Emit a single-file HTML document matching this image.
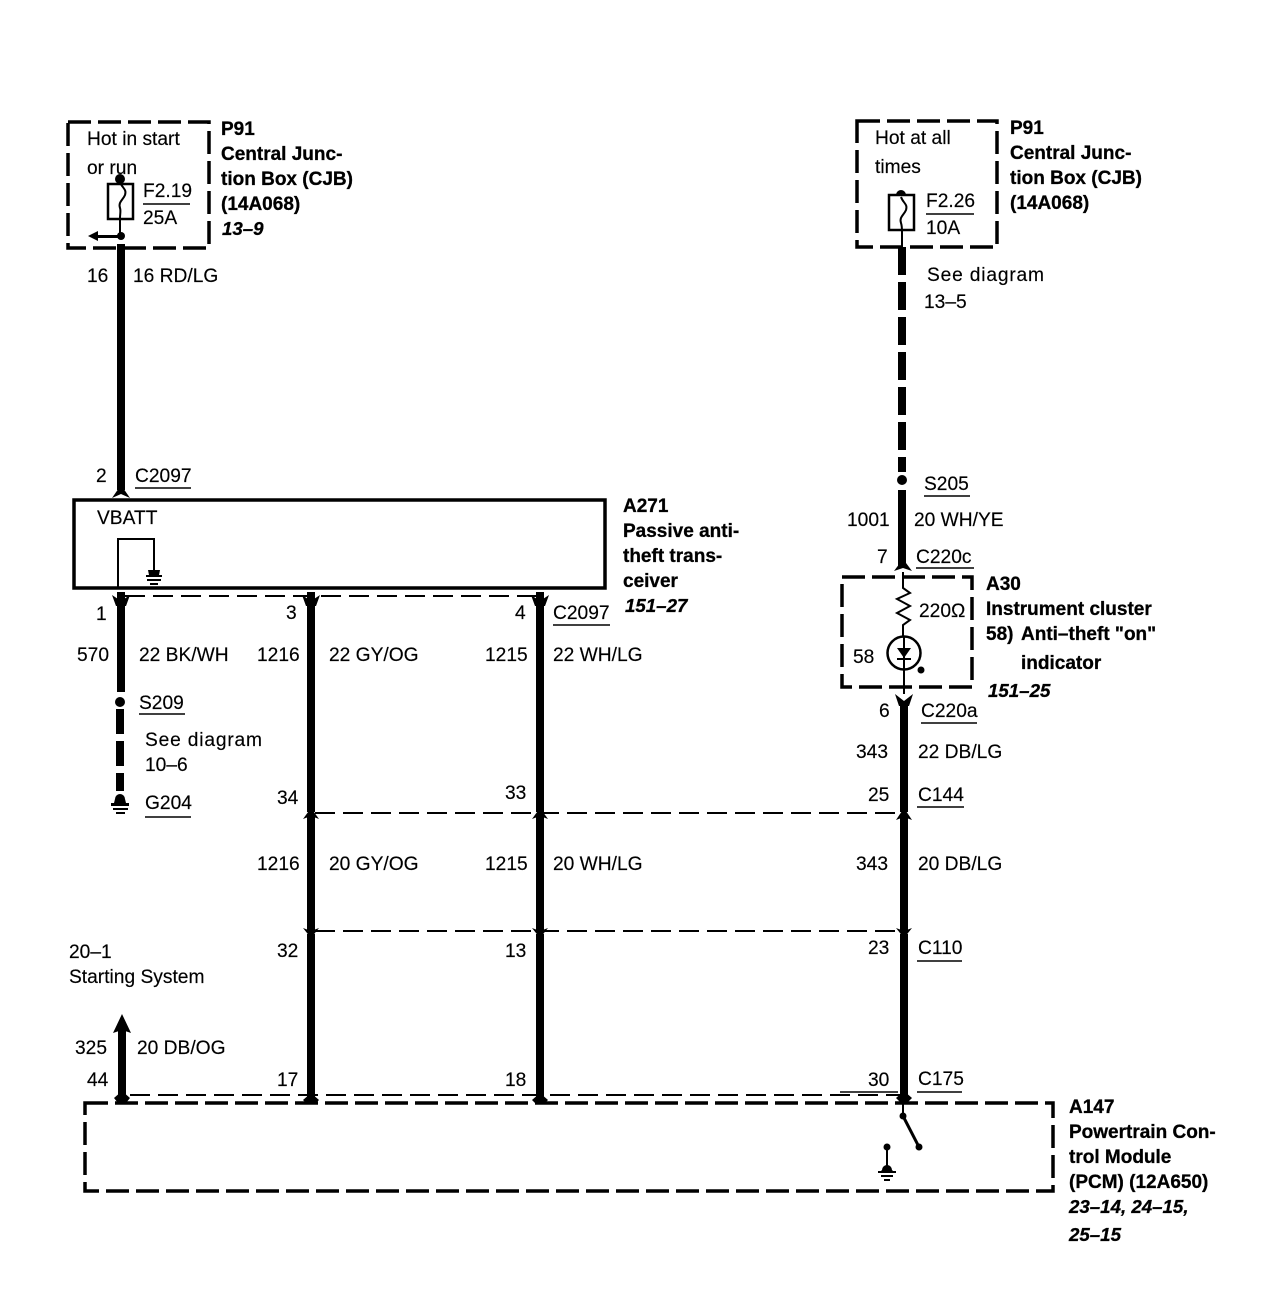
<!DOCTYPE html>
<html><head><meta charset="utf-8"><style>
html,body{margin:0;padding:0;background:#fff}
svg{display:block}
text{font-family:"Liberation Sans",sans-serif;font-size:19.2px;fill:#000;stroke:#000;stroke-width:.15}
.b{font-weight:bold;font-size:19px;stroke-width:.3}
.i{font-weight:bold;font-style:italic;font-size:18.7px;stroke-width:.3}
.d{fill:none;stroke:#000;stroke-width:3.5;stroke-dasharray:23 7}
.dt{fill:none;stroke:#000;stroke-width:2;stroke-dasharray:20 8}
.w{stroke:#000;stroke-width:8;fill:none}
.t{stroke:#000;stroke-width:2;fill:none}
.u{stroke:#000;stroke-width:1.5}
</style></head><body>
<svg width="1280" height="1312" viewBox="0 0 1280 1312" xmlns="http://www.w3.org/2000/svg">
<rect width="1280" height="1312" fill="#fff"/>

<!-- dashed boxes -->
<rect class="d" x="68" y="122" width="141" height="126"/>
<rect class="d" x="857" y="121" width="140" height="126"/>
<rect class="d" x="842" y="577" width="130" height="110"/>
<rect class="d" x="85" y="1103" width="968" height="88"/>

<!-- A271 -->
<rect x="74" y="500" width="531" height="88" fill="none" stroke="#000" stroke-width="3.5"/>
<path class="t" d="M118 588V539H154V570"/>
<path d="M148 570h12l-1 5h3v2h-16v-2h3z M147 579h14v2h-14z M150 583h8v2h-8z" fill="#000"/>

<!-- left fuse -->
<circle cx="120" cy="179" r="5" fill="#000"/>
<rect x="108" y="184" width="25" height="35" fill="#fff" stroke="#000" stroke-width="2.5"/>
<path class="t" d="M120 182c2 6 7 7 5 13-2 5-7 7-5 13 1 3 0 6 0 10v20"/>
<path class="u" d="M143 204h47"/>
<path d="M88 236l10-5v4h23v3H98v3z" fill="#000"/>
<circle cx="121" cy="236" r="4" fill="#000"/>

<!-- right fuse -->
<path d="M896 195a5 5 0 0 1 10 0v4h-10z" fill="#000"/>
<rect x="889" y="195" width="25" height="35" fill="#fff" stroke="#000" stroke-width="2.5"/>
<path class="t" d="M901 197c2 6 7 7 5 13-2 5-7 7-5 13 1 3 1 6 1 9v16"/>
<path class="u" d="M926 214h48"/>

<!-- wires -->
<path class="w" d="M121 244V490"/>
<path d="M112 498l9-13 9 13-9-4z" fill="#000"/>
<path class="w" d="M121 592V692"/>
<path d="M112 595l9 6 9-6-4 11h-10z" fill="#000"/>
<circle cx="120" cy="702" r="5" fill="#000"/>
<path class="w" stroke-dasharray="25 7" d="M120 709V791"/>
<path d="M115 799a5 5 0 0 1 10 0l1 4h3v3h-18v-3h3z M113 808h15v2h-15z M116 812h9v2h-9z" fill="#000"/>

<path class="w" d="M311 592V812"/>
<path d="M302 595l9 6 9-6-4 11h-10z" fill="#000"/>
<path d="M303 819l8-11 8 11-8-3z" fill="#000"/>
<path class="w" d="M311 816V932"/>
<path d="M303 928l8 10 8-10-8 3z" fill="#000"/>
<path class="w" d="M311 934V1098"/>
<path d="M303 1100l8-7 8 7-4 4h-8z" fill="#000"/>

<path class="w" d="M540 592V812"/>
<path d="M531 595l9 6 9-6-4 11h-10z" fill="#000"/>
<path d="M532 819l8-11 8 11-8-3z" fill="#000"/>
<path class="w" d="M540 816V932"/>
<path d="M532 928l8 10 8-10-8 3z" fill="#000"/>
<path class="w" d="M540 934V1098"/>
<path d="M532 1100l8-7 8 7-4 4h-8z" fill="#000"/>

<path class="w" stroke-dasharray="28 7" d="M902 247V472"/>
<circle cx="902" cy="480" r="5" fill="#000"/>
<path class="w" d="M902 490V568"/>
<path d="M894 571l9-12 9 12-9-3z" fill="#000"/>
<path class="t" d="M903 572V588l7 5-13 6 13 7-13 7 13 7-7 5V640"/>
<circle cx="904" cy="653" r="16.5" fill="#fff" stroke="#000" stroke-width="2.5"/>
<path d="M897 648h14l-7 10z" fill="#000"/>
<path class="t" d="M897 659h14M904 637V694"/>
<circle cx="921" cy="670" r="3.5" fill="#000"/>
<path d="M895 694l9 7 9-7-4 12h-10z" fill="#000"/>
<path class="w" d="M904 704V812"/>
<path d="M896 820l8-12 8 12-8-3z" fill="#000"/>
<path class="w" d="M904 816V932"/>
<path d="M896 928l8 10 8-10-8 3z" fill="#000"/>
<path class="w" d="M904 934V1095"/>
<path d="M896 1098l8-7 8 7-4 4h-8z" fill="#000"/>

<!-- arrow 44 -->
<path class="w" d="M122 1030V1096"/>
<path d="M113 1033l9-19 9 19-9-3z" fill="#000"/>
<path d="M114 1098l8-7 8 7-4 5h-8z" fill="#000"/>

<!-- thin dashed connectors -->
<path class="dt" d="M125 596H540"/>
<path class="dt" d="M315 813H905"/>
<path class="dt" d="M315 931H905"/>
<path class="dt" d="M130 1095H905"/>

<!-- PCM switch -->
<path class="t" d="M903 1102V1116"/>
<circle cx="903" cy="1116" r="3.5" fill="#000"/>
<path d="M903 1116L919 1147" stroke="#000" stroke-width="3"/>
<circle cx="919" cy="1147" r="3.5" fill="#000"/>
<circle cx="887" cy="1147" r="3.5" fill="#000"/>
<path class="t" d="M887 1147V1166"/>
<path d="M882 1170a5 5 0 0 1 10 0l1 1h3v2h-18v-2h3z M881 1175h12v2h-12z M884 1179h6v2h-6z" fill="#000"/>

<!-- underlines -->
<path class="u" d="M135 488h56M924 496h46M139 714h46M145 817h46M553 625h57M916 568h58M921 723h56M917 807h47M917 961h45M917 1092h45M840 1092h58"/>

<!-- left box text -->
<text x="87" y="145">Hot in start</text>
<text x="87" y="174">or run</text>
<text x="143" y="197">F2.19</text>
<text x="143" y="224">25A</text>
<text class="b" x="221" y="135">P91</text>
<text class="b" x="221" y="160">Central Junc-</text>
<text class="b" x="221" y="185">tion Box (CJB)</text>
<text class="b" x="221" y="210">(14A068)</text>
<text class="i" x="222" y="235">13–9</text>
<text x="87" y="282">16</text>
<text x="133" y="282">16 RD/LG</text>

<!-- right box text -->
<text x="875" y="144">Hot at all</text>
<text x="875" y="173">times</text>
<text x="926" y="207">F2.26</text>
<text x="926" y="234">10A</text>
<text class="b" x="1010" y="134">P91</text>
<text class="b" x="1010" y="159">Central Junc-</text>
<text class="b" x="1010" y="184">tion Box (CJB)</text>
<text class="b" x="1010" y="209">(14A068)</text>
<text x="927" y="281" textLength="117">See diagram</text>
<text x="924" y="308">13–5</text>

<!-- A271 text -->
<text x="96" y="482">2</text>
<text x="135" y="482">C2097</text>
<text x="97" y="524">VBATT</text>
<text class="b" x="623" y="512">A271</text>
<text class="b" x="623" y="537">Passive anti-</text>
<text class="b" x="623" y="562">theft trans-</text>
<text class="b" x="623" y="587">ceiver</text>
<text class="i" x="625" y="612">151–27</text>

<text x="96" y="620">1</text>
<text x="286" y="619">3</text>
<text x="515" y="619">4</text>
<text x="553" y="619">C2097</text>
<text x="77" y="661">570</text>
<text x="139" y="661">22 BK/WH</text>
<text x="257" y="661">1216</text>
<text x="329" y="661">22 GY/OG</text>
<text x="485" y="661">1215</text>
<text x="553" y="661">22 WH/LG</text>
<text x="139" y="709">S209</text>
<text x="145" y="746" textLength="117">See diagram</text>
<text x="145" y="771">10–6</text>
<text x="145" y="809">G204</text>
<text x="277" y="804">34</text>
<text x="505" y="799">33</text>
<text x="257" y="870">1216</text>
<text x="329" y="870">20 GY/OG</text>
<text x="485" y="870">1215</text>
<text x="553" y="870">20 WH/LG</text>
<text x="277" y="957">32</text>
<text x="505" y="957">13</text>
<text x="69" y="958">20–1</text>
<text x="69" y="983">Starting System</text>
<text x="75" y="1054">325</text>
<text x="137" y="1054">20 DB/OG</text>
<text x="87" y="1086">44</text>
<text x="277" y="1086">17</text>
<text x="505" y="1086">18</text>

<!-- right text -->
<text x="924" y="490">S205</text>
<text x="847" y="526">1001</text>
<text x="914" y="526">20 WH/YE</text>
<text x="877" y="563">7</text>
<text x="916" y="563">C220c</text>
<text class="b" x="986" y="590">A30</text>
<text class="b" x="986" y="615">Instrument cluster</text>
<text class="b" x="986" y="640">58)</text>
<text class="b" x="1021" y="640">Anti–theft "on"</text>
<text class="b" x="1021" y="669">indicator</text>
<text class="i" x="988" y="697">151–25</text>
<text x="919" y="617">220Ω</text>
<text x="853" y="663">58</text>
<text x="879" y="717">6</text>
<text x="921" y="717">C220a</text>
<text x="856" y="758">343</text>
<text x="918" y="758">22 DB/LG</text>
<text x="868" y="801">25</text>
<text x="918" y="801">C144</text>
<text x="856" y="870">343</text>
<text x="918" y="870">20 DB/LG</text>
<text x="868" y="954">23</text>
<text x="918" y="954">C110</text>
<text x="868" y="1086">30</text>
<text x="918" y="1085">C175</text>

<!-- PCM text -->
<text class="b" x="1069" y="1113">A147</text>
<text class="b" x="1069" y="1138">Powertrain Con-</text>
<text class="b" x="1069" y="1163">trol Module</text>
<text class="b" x="1069" y="1188">(PCM) (12A650)</text>
<text class="i" x="1069" y="1213">23–14, 24–15,</text>
<text class="i" x="1069" y="1241">25–15</text>
</svg>
</body></html>
